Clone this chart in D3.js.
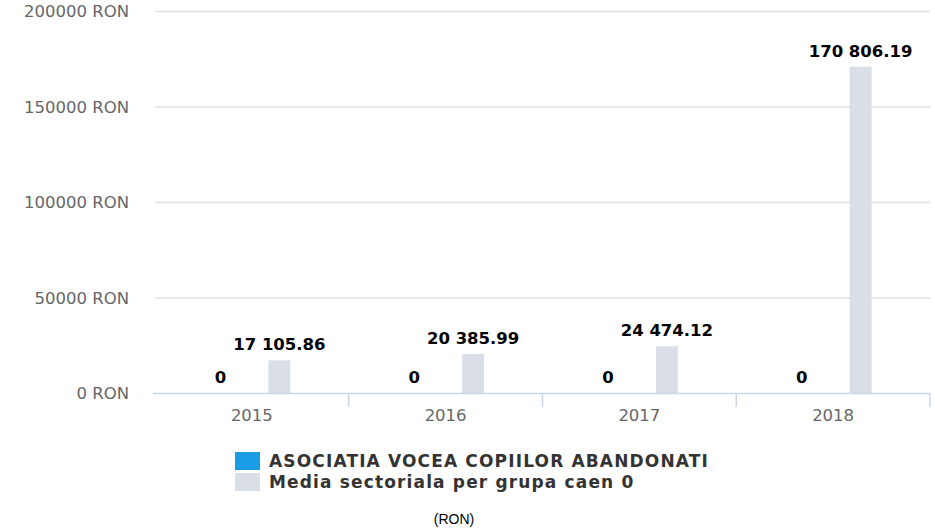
<!DOCTYPE html>
<html>
<head>
<meta charset="utf-8">
<script src="https://cdn.jsdelivr.net/npm/d3@7"></script>
<style>
  body { margin: 0; background: #fff; }
  svg { display: block; font-family: "DejaVu Sans", sans-serif; }
</style>
</head>
<body>
<svg id="chart" width="935" height="530"></svg>
<script>
// DATA
const years = ["2015", "2016", "2017", "2018"];
const seriesNames = ["ASOCIATIA VOCEA COPIILOR ABANDONATI", "Media sectoriala per grupa caen 0"];
const companyValues = [0, 0, 0, 0];
const sectorValues = [17105.86, 20385.99, 24474.12, 170806.19];
const yTicks = [0, 50000, 100000, 150000, 200000];
const colors = ["#1a9be6", "#d9dee7"];

// CANVAS SETUP
const svg = d3.select("#chart");
const margin = { top: 11, right: 5, bottom: 137, left: 155 };
const width = 935 - margin.left - margin.right,
  height = 530 - margin.top - margin.bottom;

const g = svg.append("g").attr("transform", `translate(${margin.left},${margin.top})`);

const xScale = d3.scaleBand().domain(years).range([0, width]).padding(0);
const xSub = d3
  .scaleBand()
  .domain(seriesNames)
  .range([xScale.bandwidth() / 2 - 55, xScale.bandwidth() / 2 + 55]);
const yScale = d3.scaleLinear().domain([0, 200000]).range([height, 0]);
const barWidth = 22;

// grid
g.selectAll("line.grid")
  .data(yTicks.slice(1))
  .join("line")
  .attr("class", "grid")
  .attr("x1", 0)
  .attr("x2", width)
  .attr("y1", (d) => yScale(d) + 0.5)
  .attr("y2", (d) => yScale(d) + 0.5)
  .attr("stroke", "#e0e0e0")
  .attr("stroke-width", 1.5);

// y labels
g.selectAll("text.ylab")
  .data(yTicks)
  .join("text")
  .attr("class", "ylab")
  .attr("x", -26)
  .attr("y", (d) => yScale(d) + 6)
  .attr("text-anchor", "end")
  .attr("fill", "#666")
  .style("font-size", "16.5px")
  .text((d) => d + " RON");

// bars
const rows = years.map((y, i) => ({ year: y, values: [companyValues[i], sectorValues[i]] }));

const groups = g
  .selectAll("g.year")
  .data(rows)
  .join("g")
  .attr("class", "year")
  .attr("transform", (d) => `translate(${xScale(d.year)},0)`);

groups
  .selectAll("rect")
  .data((d) => d.values.map((v, j) => ({ name: seriesNames[j], value: v, j })))
  .join("rect")
  .attr("x", (d) => xSub(d.name) + xSub.bandwidth() / 2 - barWidth / 2)
  .attr("y", (d) => yScale(d.value))
  .attr("width", barWidth)
  .attr("height", (d) => height - yScale(d.value))
  .attr("fill", (d) => colors[d.j]);

const fmt = (v) => (v === 0 ? "0" : d3.format(",.2f")(v).replace(/,/g, " "));

groups
  .selectAll("text.val")
  .data((d) => d.values.map((v, j) => ({ name: seriesNames[j], value: v, j })))
  .join("text")
  .attr("class", "val")
  .attr("x", (d) => xSub(d.name) + xSub.bandwidth() / 2 - (d.j === 0 ? 4 : 0))
  .attr("y", (d) => yScale(d.value) - 10)
  .attr("text-anchor", "middle")
  .attr("fill", "#000")
  .attr("stroke", "#fff")
  .attr("stroke-width", 2)
  .attr("paint-order", "stroke")
  .style("font-size", "16.5px")
  .style("font-weight", "bold")
  .text((d) => fmt(d.value));

// x axis
g.append("line")
  .attr("x1", -2)
  .attr("x2", width)
  .attr("y1", height + 0.5)
  .attr("y2", height + 0.5)
  .attr("stroke", "#ccd6eb")
  .attr("stroke-width", 1.5);

g.selectAll("line.tick")
  .data(years)
  .join("line")
  .attr("class", "tick")
  .attr("x1", (d) => xScale(d) + xScale.bandwidth())
  .attr("x2", (d) => xScale(d) + xScale.bandwidth())
  .attr("y1", height)
  .attr("y2", height + 14)
  .attr("stroke", "#ccd6eb")
  .attr("stroke-width", 1.5);

g.selectAll("text.xlab")
  .data(years)
  .join("text")
  .attr("class", "xlab")
  .attr("x", (d) => xScale(d) + xScale.bandwidth() / 2)
  .attr("y", height + 28)
  .attr("text-anchor", "middle")
  .attr("fill", "#666")
  .style("font-size", "16.5px")
  .text((d) => d);

// legend
const legend = svg
  .selectAll("g.legend")
  .data(seriesNames)
  .join("g")
  .attr("class", "legend")
  .attr("transform", (d, i) => `translate(235,${452 + i * 21})`);

legend
  .append("rect")
  .attr("width", 25)
  .attr("height", 18)
  .attr("fill", (d, i) => colors[i]);

legend
  .append("text")
  .attr("x", 34)
  .attr("y", 15)
  .attr("fill", "#333")
  .style("font-size", "17px")
  .style("font-weight", "bold")
  .style("letter-spacing", "1.15px")
  .text((d) => d);

svg
  .append("text")
  .attr("x", 454)
  .attr("y", 524)
  .attr("text-anchor", "middle")
  .attr("fill", "#000")
  .style("font-family", "'Liberation Sans', Arial, sans-serif")
  .style("font-size", "14px")
  .text("(RON)");
</script>
</body>
</html>
